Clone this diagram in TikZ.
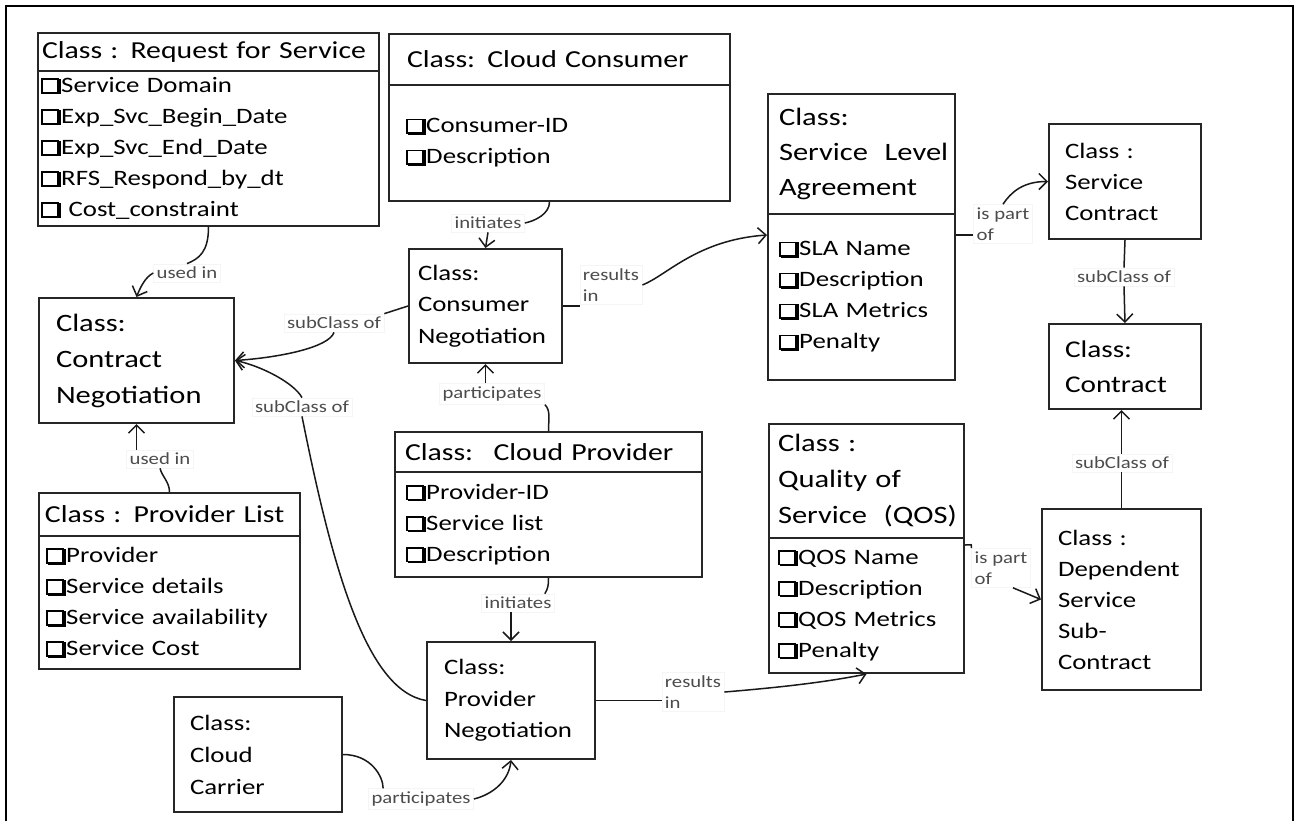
\documentclass[tikz,border=0pt]{standalone}
\usepackage{fontspec}
\setmainfont{Carlito}[FakeStretch=1.22]
\usetikzlibrary{arrows.meta,calc}
\newcommand{\chk}{\makebox[0.92em][l]{\raisebox{-0.08em}{\kern0.1em\rule{0.8em}{0.7em}}\kern-0.9em\raisebox{0.02em}{\setlength{\fboxsep}{0pt}\setlength{\fboxrule}{0.07em}\fcolorbox{black}{white}{\rule{0pt}{0.56em}\rule{0.66em}{0pt}}}}}
\newcommand{\titlefont}{\fontsize{12.2}{15.5}\selectfont}
\newcommand{\itemfont}{\fontsize{11}{15.5}\selectfont}
\tikzset{
  cls/.style={draw=black!85,line width=1pt,rectangle,anchor=north west,align=left,inner ysep=0pt},
  sz/.style n args={3}{minimum width=#1*0.5pt,minimum height=#2*0.5pt,inner xsep=#3*0.5pt,text width=(#1-2*#3)*0.5pt},
  lbl/.style={fill=white,draw=black!4,text=black!70,align=left,inner sep=1.5pt,font=\fontsize{8.5}{10.5}\selectfont},
  ln/.style={draw=black!90,line width=0.75pt},
  >={Straight Barb[length=4pt,width=8pt]}
}
\begin{document}
\begin{tikzpicture}[x=0.5pt,y=-0.5pt]
\useasboundingbox (0,0) rectangle (1297,821);
\draw[line width=1pt] (6,821)--(6,6)--(1293,6)--(1293,821); %frame

%class boxes
\node[cls,sz={341}{38}{4},font=\titlefont] (rfsh) at (37,32) {Class : Request for Service};
\node[cls,sz={341}{155}{3},font=\itemfont] (rfsb) at (37,70) {\chk Service Domain\\\chk Exp\_Svc\_Begin\_Date\\\chk Exp\_Svc\_End\_Date\\\chk RFS\_Respond\_by\_dt\\\chk{} Cost\_constraint};
\node[cls,sz={341}{51}{18},font=\titlefont] (cch) at (388,33) {Class: Cloud Consumer};
\node[cls,sz={341}{116}{17},font=\itemfont] (ccb) at (388,84) {\chk Consumer-ID\\\chk Description};
\node[cls,sz={187}{120}{11},font=\fontsize{12.5}{17.5}\selectfont] (slah) at (767,93) {Class:\\Service~ Level\\Agreement};
\node[cls,sz={187}{166}{11},font=\itemfont] (slab) at (767,213) {\chk SLA Name\\\chk Description\\\chk SLA Metrics\\\chk Penalty};
\node[cls,sz={152}{115}{16},font=\fontsize{11}{15.5}\selectfont] (sc) at (1048,123) {Class :\\Service\\Contract};
\node[cls,sz={152}{85}{16},font=\fontsize{12}{17.5}\selectfont] (ct) at (1048,323) {Class:\\Contract};
\node[cls,sz={159}{181}{16},font=\fontsize{11}{15.5}\selectfont] (dep) at (1041,508) {Class :\\Dependent\\Service\\Sub-\\Contract};
\node[cls,sz={195}{114}{9},font=\fontsize{12.5}{18}\selectfont] (qosh) at (768,423) {Class :\\Quality of\\Service~ (QOS)};
\node[cls,sz={195}{135}{9},font=\itemfont] (qosb) at (768,537) {\chk QOS Name\\\chk Description\\\chk QOS Metrics\\\chk Penalty};
\node[cls,sz={195}{125}{17},font=\fontsize{12.5}{18}\selectfont] (cn) at (38,297) {Class:\\Contract\\Negotiation};
\node[cls,sz={261}{43}{6},font=\titlefont] (plh) at (38,492) {Class : Provider List};
\node[cls,sz={261}{133}{7},font=\itemfont] (plb) at (38,535) {\chk Provider\\\chk Service details\\\chk Service availability\\\chk Service Cost};
\node[cls,sz={153}{114}{9},font=\fontsize{11}{15.75}\selectfont] (con) at (408,248) {Class:\\Consumer\\Negotiation};
\node[cls,sz={307}{40}{10},font=\titlefont] (cph) at (394,431) {Class:~ Cloud Provider};
\node[cls,sz={307}{105}{11},font=\itemfont] (cpb) at (394,471) {\chk Provider-ID\\\chk Service list\\\chk Description};
\node[cls,sz={168}{117}{17},font=\fontsize{11}{15.75}\selectfont] (pn) at (426,641) {Class:\\Provider\\Negotiation};
\node[cls,sz={168}{115}{16},font=\fontsize{11}{16}\selectfont] (car) at (173,696) {Class:\\Cloud\\Carrier};

%some labels
\node[lbl] (lu1) at (187,273) {used in};
\node[lbl] (li1) at (488,223) {initiates};
\node[lbl] (lr1) at (611,285) {results\\in};
\node[lbl] (ls1) at (334,323) {subClass of};
\node[lbl] (ls2) at (302,407) {subClass of};
\node[lbl] (lu2) at (160,459) {used in};
\node[lbl] (lp1) at (492,394) {participates};
\node[lbl] (li2) at (518,603) {initiates};
\node[lbl] (lr2) at (693,692) {results\\in};
\node[lbl] (lp2) at (421,799) {participates};
\node[lbl] (lpo1) at (1003,224) {is part\\of};
\node[lbl] (ls3) at (1124,277) {subClass of};
\node[lbl] (ls4) at (1122,463) {subClass of};
\node[lbl] (lpo2) at (1001,568) {is part\\of};

\coordinate (slaL) at ($(slab.north west)+(0,22)$);
\coordinate (slaR) at ($(slab.north east)+(0,22)$);
\coordinate (qosR) at ($(qosb.north east)+(0,8)$);

%some lines
\draw[ln] (rfsb.south) .. controls +(0,25) and +(12,-5) .. (lu1.north);
\draw[ln,->] (lu1.west) .. controls +(-8,4) and +(4,-10) .. (cn.north); %used in
\draw[ln] ($(ccb.south)+(-10,0)$) .. controls +(0,12) and +(10,-2) .. (li1.east);
\draw[ln,->] (li1.south) -- (con.north); %initiates
\draw[ln] (con.east) -- (con.east -| lr1.west);
\draw[ln,->] (lr1.east) .. controls +(25,-10) and +(-70,5) .. (slaL); %results in
\draw[ln] (con.west) -- (ls1.north east);
\draw[ln,->] (ls1.south) .. controls +(-5,15) and +(45,-3) .. (cn.east); %subClass of
\draw[ln] (pn.west) .. controls +(-60,-10) and +(30,150) .. (ls2.south);
\draw[ln,->] (ls2.north) .. controls +(-8,-15) and +(25,5) .. (cn.east); %subClass of
\draw[ln] (plh.north) .. controls +(0,-10) and +(2,8) .. (lu2.south);
\draw[ln,->] (cn.south |- lu2.north) -- (cn.south); %used in
\draw[ln] (cph.north) .. controls +(0,-12) and +(6,6) .. (lp1.south east);
\draw[ln,->] (con.south |- lp1.north) -- (con.south); %participates
\draw[ln] (cpb.south) .. controls +(0,8) and +(3,-5) .. ($(li2.north east)+(-10,0)$);
\draw[ln,->] (pn.north |- li2.south) -- (pn.north); %initiates
\draw[ln] (pn.east) -- (pn.east -| lr2.west);
\draw[ln,->] (lr2.east) .. controls +(60,-5) and +(-40,8) .. (qosb.south); %results in
\draw[ln] (car.east) .. controls +(28,0) and +(0,-12) .. ($(lp2.north west)+(15,0)$);
\draw[ln,->] (lp2.east) .. controls +(20,-5) and +(-2,20) .. (pn.south); %participates
\draw[ln] (slaR) -- (slaR -| lpo1.west);
\draw[ln,->] (lpo1.north) .. controls +(8,-12) and +(-25,0) .. (sc.west); %is part of
\draw[ln] (sc.south) -- (ls3.north);
\draw[ln,->] (ls3.south) -- (ct.north); %subClass of
\draw[ln] (dep.north) -- (dep.north |- ls4.south);
\draw[ln,->] (dep.north |- ls4.north) -- (dep.north |- ct.south); %subClass of
\draw[ln] (qosR) .. controls +(8,0) and +(0,-5) .. (lpo2.north west);
\draw[ln,->] ($(lpo2.south)+(12,0)$) -- (dep.west); %is part of
\end{tikzpicture}
\end{document}
